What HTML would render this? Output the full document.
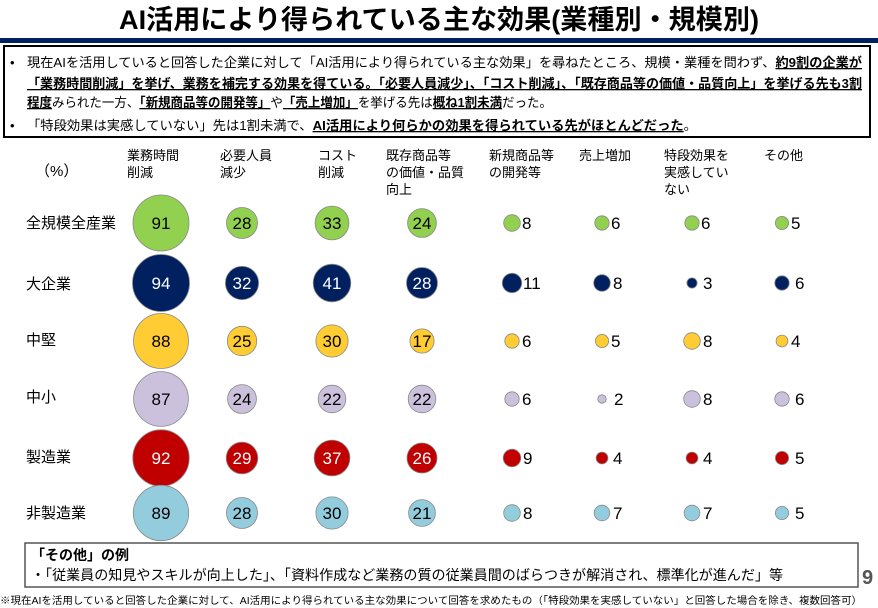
<!DOCTYPE html>
<html><head><meta charset="utf-8"><style>
body{margin:0;width:878px;height:608px;background:#fff;overflow:hidden;font-family:"Liberation Sans","Noto Sans CJK JP",sans-serif;}
</style></head><body>
<svg width="878" height="608" xmlns="http://www.w3.org/2000/svg" style="position:absolute;left:0;top:0" font-family="Liberation Sans, Noto Sans CJK JP, sans-serif">
<text x="439" y="29" text-anchor="middle" font-size="27" font-weight="bold" fill="#000" textLength="640" lengthAdjust="spacingAndGlyphs">AI活用により得られている主な効果(業種別・規模別)</text>
<rect x="0" y="38" width="878" height="5" fill="#002060"/>
<rect x="4" y="46" width="866" height="91" fill="none" stroke="#000" stroke-width="2"/>
<g font-size="13" fill="#000">
<text x="10" y="67">•</text>
<text x="27" y="67" textLength="835" lengthAdjust="spacingAndGlyphs">現在AIを活用していると回答した企業に対して「AI活用により得られている主な効果」を尋ねたところ、規模・業種を問わず、<tspan font-weight="bold" text-decoration="underline">約9割の企業が</tspan></text>
<text x="27" y="88" textLength="835" lengthAdjust="spacingAndGlyphs" font-weight="bold" text-decoration="underline">「業務時間削減」を挙げ、業務を補完する効果を得ている。「必要人員減少」、「コスト削減」、「既存商品等の価値・品質向上」を挙げる先も3割</text>
<text x="27" y="107" textLength="525" lengthAdjust="spacingAndGlyphs"><tspan font-weight="bold" text-decoration="underline">程度</tspan>みられた一方、<tspan font-weight="bold" text-decoration="underline">「新規商品等の開発等」</tspan>や<tspan font-weight="bold" text-decoration="underline">「売上増加」</tspan>を挙げる先は<tspan font-weight="bold" text-decoration="underline">概ね1割未満</tspan>だった。</text>
<text x="10" y="130">•</text>
<text x="27" y="130" textLength="670" lengthAdjust="spacingAndGlyphs">「特段効果は実感していない」先は1割未満で、<tspan font-weight="bold" text-decoration="underline">AI活用により何らかの効果を得られている先がほとんどだった</tspan>。</text>
</g>
<g font-size="13" fill="#000">
<text x="35" y="176" font-size="15">（%）</text>
<text x="127" y="160">業務時間</text><text x="127" y="177">削減</text>
<text x="220" y="160">必要人員</text><text x="220" y="177">減少</text>
<text x="318" y="160">コスト</text><text x="318" y="177">削減</text>
<text x="386" y="160">既存商品等</text><text x="386" y="177">の価値・品質</text><text x="386" y="194">向上</text>
<text x="489" y="160">新規商品等</text><text x="489" y="177">の開発等</text>
<text x="579" y="160">売上増加</text>
<text x="664" y="160">特段効果を</text><text x="664" y="177">実感してい</text><text x="664" y="194">ない</text>
<text x="764" y="160">その他</text>
</g>
<g font-size="15" fill="#000">
<text x="26" y="228">全規模全産業</text>
<text x="26" y="289">大企業</text>
<text x="26" y="345">中堅</text>
<text x="26" y="402">中小</text>
<text x="26" y="462">製造業</text>
<text x="26" y="518">非製造業</text>
</g>
<g stroke="#888" stroke-width="0.8" font-size="17" text-anchor="middle">
<!-- row1 green -->
<g fill="#92d050"><circle cx="161" cy="223" r="28"/><circle cx="242" cy="223" r="15.5"/><circle cx="332" cy="223" r="16.9"/><circle cx="422" cy="223" r="14.4"/>
<circle cx="512" cy="223" r="8.3"/><circle cx="602" cy="223" r="7.2"/><circle cx="692" cy="223" r="7.2"/><circle cx="782" cy="223" r="6.6"/></g>
<!-- row2 navy -->
<g fill="#002060"><circle cx="161" cy="283" r="28.5"/><circle cx="242" cy="283" r="16.6"/><circle cx="332" cy="283" r="18.8"/><circle cx="422" cy="283" r="15.5"/>
<circle cx="512" cy="283" r="9.7"/><circle cx="602" cy="283" r="8.3"/><circle cx="692" cy="283" r="5.1"/><circle cx="782" cy="283" r="7.2"/></g>
<!-- row3 yellow -->
<g fill="#ffcc33"><circle cx="161" cy="341" r="27.5"/><circle cx="242" cy="341" r="14.7"/><circle cx="332" cy="341" r="16.1"/><circle cx="422" cy="341" r="12.1"/>
<circle cx="512" cy="341" r="7.2"/><circle cx="602" cy="341" r="6.6"/><circle cx="692" cy="341" r="8.3"/><circle cx="782" cy="341" r="5.9"/></g>
<!-- row4 lavender -->
<g fill="#ccc1dc"><circle cx="161" cy="399" r="27.4"/><circle cx="242" cy="399" r="14.4"/><circle cx="332" cy="399" r="13.8"/><circle cx="422" cy="399" r="13.8"/>
<circle cx="512" cy="399" r="7.2"/><circle cx="602" cy="399" r="4.2"/><circle cx="692" cy="399" r="8.3"/><circle cx="782" cy="399" r="7.2"/></g>
<!-- row5 red -->
<g fill="#c00000"><circle cx="161" cy="458" r="28.2"/><circle cx="242" cy="458" r="15.8"/><circle cx="332" cy="458" r="17.9"/><circle cx="422" cy="458" r="15"/>
<circle cx="512" cy="458" r="8.8"/><circle cx="602" cy="458" r="5.9"/><circle cx="692" cy="458" r="5.9"/><circle cx="782" cy="458" r="6.6"/></g>
<!-- row6 light blue -->
<g fill="#93cddd"><circle cx="161" cy="513" r="27.7"/><circle cx="242" cy="513" r="15.5"/><circle cx="332" cy="513" r="16.1"/><circle cx="422" cy="513" r="13.4"/>
<circle cx="512" cy="513" r="8.3"/><circle cx="602" cy="513" r="7.8"/><circle cx="692" cy="513" r="7.8"/><circle cx="782" cy="513" r="6.6"/></g>
</g>
<g font-size="17" text-anchor="middle" fill="#000">
<text x="161" y="229">91</text><text x="242" y="229">28</text><text x="332" y="229">33</text><text x="422" y="229">24</text>
<g fill="#fff"><text x="161" y="289">94</text><text x="242" y="289">32</text><text x="332" y="289">41</text><text x="422" y="289">28</text></g>
<text x="161" y="347">88</text><text x="242" y="347">25</text><text x="332" y="347">30</text><text x="422" y="347">17</text>
<text x="161" y="405">87</text><text x="242" y="405">24</text><text x="332" y="405">22</text><text x="422" y="405">22</text>
<g fill="#fff"><text x="161" y="464">92</text><text x="242" y="464">29</text><text x="332" y="464">37</text><text x="422" y="464">26</text></g>
<text x="161" y="519">89</text><text x="242" y="519">28</text><text x="332" y="519">30</text><text x="422" y="519">21</text>
</g>
<g font-size="17" fill="#000">
<text x="522" y="229">8</text><text x="611" y="229">6</text><text x="701" y="229">6</text><text x="791" y="229">5</text>
<text x="523" y="289">11</text><text x="613" y="289">8</text><text x="703" y="289">3</text><text x="795" y="289">6</text>
<text x="522" y="347">6</text><text x="611" y="347">5</text><text x="703" y="347">8</text><text x="791" y="347">4</text>
<text x="522" y="405">6</text><text x="614" y="405">2</text><text x="703" y="405">8</text><text x="795" y="405">6</text>
<text x="523" y="464">9</text><text x="613" y="464">4</text><text x="703" y="464">4</text><text x="795" y="464">5</text>
<text x="523" y="519">8</text><text x="613" y="519">7</text><text x="703" y="519">7</text><text x="795" y="519">5</text>
</g>
<rect x="25" y="543" width="833" height="44" fill="#fff" stroke="#555" stroke-width="1.5"/>
<text x="31" y="560" font-size="14" font-weight="bold">「その他」の例</text>
<text x="31" y="580" font-size="14" textLength="752" lengthAdjust="spacingAndGlyphs">・「従業員の知見やスキルが向上した」、「資料作成など業務の質の従業員間のばらつきが解消され、標準化が進んだ」等</text>
<text x="862" y="584" font-size="20" font-weight="bold" fill="#555">9</text>
<text x="0" y="604" font-size="10" fill="#000" textLength="862" lengthAdjust="spacingAndGlyphs">※現在AIを活用していると回答した企業に対して、AI活用により得られている主な効果について回答を求めたもの（「特段効果を実感していない」と回答した場合を除き、複数回答可）</text>
</svg>
</body></html>
